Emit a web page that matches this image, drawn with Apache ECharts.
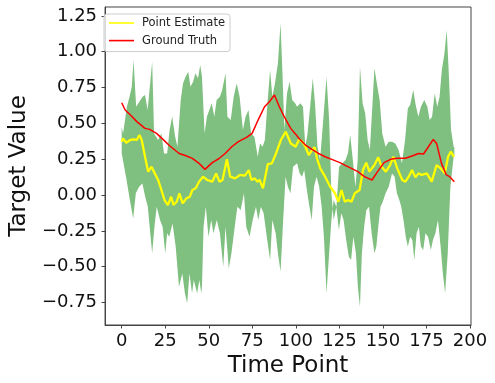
<!DOCTYPE html>
<html>
<head>
<meta charset="utf-8">
<script src="https://cdn.jsdelivr.net/npm/echarts@6/dist/echarts.min.js"></script>
<style>
html, body { margin: 0; padding: 0; background: #fff; }
#chart { width: 495px; height: 383px; }
</style>
</head>
<body>
<div id="chart"></div>
<script>
// [time point, value] pairs
var groundTruth = [
    [0, 0.644], [2, 0.593], [5, 0.558], [8.7, 0.512], [13.4, 0.465], [16, 0.458], [20, 0.43],
    [23.7, 0.388], [27.5, 0.344], [33, 0.29], [36.9, 0.274], [40.6, 0.256], [44.4, 0.221],
    [47.8, 0.179], [52, 0.226], [55.7, 0.253], [59.4, 0.29], [63.2, 0.337], [67, 0.372],
    [71.7, 0.402], [74.9, 0.43], [78.3, 0.523], [82, 0.616], [84.8, 0.651], [87.7, 0.698],
    [90.5, 0.616], [93.3, 0.547], [97, 0.465], [100, 0.423], [101.8, 0.395], [105.5, 0.349],
    [109.3, 0.319], [113, 0.29], [116.8, 0.267], [120.6, 0.249], [125.3, 0.226], [128, 0.209],
    [131.9, 0.186], [135.6, 0.163], [139.4, 0.128], [143.7, 0.105], [146.9, 0.163],
    [150.6, 0.226], [154.4, 0.249], [158.2, 0.256], [162.9, 0.256], [166.7, 0.272],
    [170.4, 0.29], [173.3, 0.286], [176.1, 0.337], [178.9, 0.388], [180.8, 0.36],
    [183.6, 0.221], [186.4, 0.14], [188.3, 0.128], [191, 0.093]
];

var pointEstimate = [
    [0, 0.372], [0.8, 0.395], [2.6, 0.365], [4.9, 0.384], [6.8, 0.388], [8.7, 0.384],
    [10.2, 0.419], [11.5, 0.384], [13.4, 0.267], [15.2, 0.163], [17.1, 0.198], [19, 0.151],
    [20.9, 0.105], [22.8, 0.035], [24.6, -0.035], [26.5, -0.07], [28.4, -0.012], [29.7, -0.07],
    [31.6, -0.047], [33.1, 0.012], [35, -0.058], [37.2, -0.023], [39.1, -0.012], [40.6, 0.035],
    [42.5, 0.047], [44.4, 0.093], [46.7, 0.128], [49.1, 0.105], [52, 0.093], [54.2, 0.151],
    [56.1, 0.093], [57.9, 0.105], [60.4, 0.249], [62.3, 0.128], [65.1, 0.116], [67.9, 0.14],
    [70.7, 0.135], [73, 0.174], [74.5, 0.105], [76.4, 0.116], [77.9, 0.093], [79.2, 0.105],
    [81.1, 0.047], [83.9, 0.216], [86.2, 0.221], [88.6, 0.29], [91.4, 0.384], [94.2, 0.442],
    [97.1, 0.36], [99.9, 0.337], [101.8, 0.388], [103.7, 0.372], [105.5, 0.337], [107.4, 0.279],
    [109.3, 0.314], [110.8, 0.333], [112.1, 0.256], [114, 0.186], [116.8, 0.128], [119.7, 0.058],
    [122.5, 0.012], [124.4, -0.047], [126.2, 0.035], [128.1, -0.047], [130, -0.035],
    [131.9, -0.047], [133.8, 0.012], [136.6, 0.035], [138.5, 0.174], [140.4, 0.226],
    [142.2, 0.163], [145.1, 0.209], [147.3, 0.263], [149.2, 0.198], [151.7, 0.163],
    [154.1, 0.209], [156, 0.267], [158.2, 0.186], [161.1, 0.105], [162.9, 0.093],
    [164.8, 0.128], [166.7, 0.174], [168.6, 0.123], [170.4, 0.151], [172.3, 0.14],
    [175.2, 0.151], [178, 0.093], [180.8, 0.209], [183.1, 0.186], [185.5, 0.151],
    [187.4, 0.267], [188.9, 0.302], [190.8, 0.267]
];

var upperBound = [
    [0, 0.477], [0.8, 0.43], [3, 0.616], [4.5, 0.686], [5.8, 0.756], [6.8, 0.942], [8.3, 0.616],
    [12, 0.686], [13.4, 0.698], [14.9, 0.593], [17.5, 0.93], [18.6, 0.43], [20.9, 0.384],
    [22.8, 0.43], [24.3, 0.29], [26.1, 0.29], [27.5, 0.453], [29, 0.547], [30.7, 0.407],
    [32, 0.337], [33.9, 0.663], [35.2, 0.779], [36.7, 0.826], [38.2, 0.86], [39.5, 0.756],
    [41, 0.79], [42.3, 0.849], [43.8, 0.814], [45.1, 0.907], [46.1, 0.826], [47.6, 0.43],
    [48.9, 0.547], [51.7, 0.64], [53.2, 0.547], [54.5, 0.663], [56.4, 0.686], [57.7, 0.733],
    [59.6, 0.849], [60.7, 0.547], [62.6, 0.523], [64.3, 0.686], [66, 0.779], [67.7, 0.686],
    [69.6, 0.453], [71.1, 0.547], [72.8, 0.593], [74.3, 0.43], [76.2, 0.407], [78.1, 0.267],
    [79.4, 0.36], [80.9, 0.337], [82.2, 0.384], [83.7, 0.64], [85.2, 0.872], [86.5, 0.686],
    [88, 0.779], [89.7, 0.919], [91.2, 1.198], [92.3, 0.849], [93.4, 0.453], [94.9, 0.709],
    [96.4, 0.791], [97.9, 0.663], [99.6, 0.64], [100.7, 0.616], [102.6, 0.64], [104.1, 0.616],
    [105.4, 0.337], [106.7, 0.43], [108.2, 0.616], [109.7, 0.814], [111, 0.64], [112.4, 0.337],
    [113.9, 0.244], [115.7, 0.523], [117.6, 0.826], [119.1, 0.523], [120.4, 0.012],
    [121.7, -0.174], [123.3, -0.081], [124.8, 0.198], [126.7, 0.221], [128.5, 0.244],
    [129.9, 0.291], [131.2, 0.419], [132.7, 0.244], [134.2, 0.058], [135.5, 0.244],
    [136.8, 0.895], [138.3, 0.64], [139.8, 0.57], [141.2, 0.384], [142.5, 0.314], [144, 0.64],
    [145.1, 0.884], [146.8, 0.756], [148.1, 0.663], [149.6, 0.43], [151.5, 0.337],
    [153.3, 0.372], [155.2, 0.372], [157.1, 0.36], [159, 0.314], [160.9, 0.221], [162.7, 0.384],
    [164.3, 0.605], [165.6, 0.628], [167.4, 0.733], [168.8, 0.628], [170.3, 0.547],
    [171.8, 0.616], [173.7, 0.663], [175.5, 0.616], [176.8, 0.523], [178.2, 0.547],
    [179.7, 0.709], [181.2, 0.616], [182.5, 0.686], [183.8, 0.872], [185.3, 0.988],
    [186.6, 1.151], [187.8, 0.849], [189.1, 0.453], [190.6, 0.337], [191, 0.33]
];

var lowerBound = [
    [0, 0.291], [2.8, 0.105], [4.7, -0.035], [6.6, -0.163], [8.1, 0.012], [10, 0.058],
    [11.9, 0.081], [13.5, -0.012], [15, -0.081], [16.4, -0.267], [17.5, -0.407], [18.8, -0.221],
    [20.1, -0.081], [22, -0.174], [23.5, -0.221], [25, -0.407], [26.1, -0.267], [27.3, -0.291],
    [29.2, -0.198], [31, -0.36], [32.9, -0.64], [34.8, -0.547], [36.3, -0.686], [37.6, -0.756],
    [38.9, -0.547], [40.4, -0.686], [41.4, -0.593], [43.3, -0.686], [44.6, -0.593],
    [45.7, -0.686], [46.1, -0.64], [47, -0.221], [48.3, -0.081], [49.8, -0.291], [51.4, -0.174],
    [52.7, -0.267], [54.6, -0.174], [56.4, -0.267], [58.3, -0.5], [59.6, -0.221], [61.5, -0.512],
    [63, -0.407], [64.9, -0.221], [66.4, -0.081], [68.3, -0.105], [70.2, 0.012], [71.5, -0.221],
    [73.4, -0.291], [75.2, -0.174], [77.1, -0.081], [78.4, -0.174], [79.9, -0.081],
    [81.5, -0.128], [83.3, -0.291], [85.2, -0.453], [86.5, -0.174], [88.4, -0.267],
    [89.7, -0.407], [91.2, -0.535], [92.7, -0.174], [94.1, 0.128], [95.4, 0.058], [96.9, 0.012],
    [98.4, 0.198], [100.7, 0.221], [102.2, 0.151], [103.5, 0.128], [104.8, 0.174],
    [106.3, 0.035], [107.8, -0.081], [109.1, -0.174], [110.4, 0.058], [111.9, 0.128],
    [113.4, 0.058], [114.8, -0.081], [116.1, -0.291], [117.6, -0.686], [119.1, -0.407],
    [120.4, -0.174], [121.7, -0.035], [123.2, -0.081], [124.7, -0.244], [126.1, -0.128],
    [127.4, -0.174], [128.9, -0.314], [130.4, -0.43], [131.7, -0.453], [133, -0.291],
    [134.5, -0.407], [135.6, -0.64], [136.8, -0.779], [137.9, -0.407], [139.2, -0.221],
    [140.5, -0.105], [142, -0.081], [143.5, -0.267], [145.1, -0.407], [146.2, -0.36],
    [147.7, -0.174], [148.6, -0.081], [149.9, -0.047], [151.5, 0.012], [153.3, 0.058],
    [155.2, 0.151], [156.7, 0.128], [158, 0.012], [159.4, -0.035], [160.5, -0.081],
    [161.8, -0.174], [163.1, -0.291], [164.3, -0.36], [165.6, -0.291], [166.9, -0.314],
    [168, -0.453], [169.3, -0.267], [170.6, -0.221], [171.8, -0.36], [173.1, -0.384],
    [174.4, -0.267], [175.9, -0.291], [177.5, -0.384], [178.7, -0.314], [180.1, -0.267],
    [181.6, -0.174], [183.1, -0.36], [184.4, -0.547], [185.7, -0.686], [187.2, -0.407],
    [188.7, 0.058], [190.6, 0.267], [191, 0.27]
];

var xTicks = [0, 25, 50, 75, 100, 125, 150, 175, 200];
var yTicks = [-0.75, -0.5, -0.25, 0, 0.25, 0.5, 0.75, 1, 1.25];

var font = 'DejaVu Sans';
var spine = '#444';

function fmtY(v) {
    return (v < 0 ? '\u2212' : '') + Math.abs(v).toFixed(2);
}

// fill_between: upper edge forward, lower edge back
function renderBand(params, api) {
    if (params.dataIndex !== 0) return;
    var pts = upperBound.map(function (p) { return api.coord(p); });
    var low = lowerBound.slice().reverse().map(function (p) { return api.coord(p); });
    return {
        type: 'polygon',
        shape: { points: pts.concat(low) },
        style: { fill: '#7fbf7f' }
    };
}

var chart = echarts.init(document.getElementById('chart'), null, { renderer: 'canvas' });
chart.setOption({
    animation: false,
    grid: {
        left: 99, right: 24, top: 7, bottom: 58,
        show: true, borderColor: spine, borderWidth: 1
    },
    legend: {
        orient: 'vertical',
        left: 104, top: 14,
        padding: [2, 5, 4, 5],
        itemGap: 3.6,
        itemWidth: 25, itemHeight: 1.6,
        icon: 'rect',
        backgroundColor: 'rgba(255,255,255,0.8)',
        borderColor: '#ccc', borderWidth: 1, borderRadius: 3,
        textStyle: { fontFamily: font, fontSize: 11.5, color: '#222', lineHeight: 14, padding: [0, 0, 0, 3] },
        data: ['Point Estimate', 'Ground Truth']
    },
    xAxis: {
        type: 'value',
        min: -9.55, max: 200.55,
        name: 'Time Point',
        nameLocation: 'middle',
        nameGap: 27,
        nameTextStyle: { fontFamily: font, fontSize: 23, color: '#111' },
        axisLine: { show: true, onZero: false, lineStyle: { color: spine } },
        axisTick: { show: true, length: 3.5, customValues: xTicks, lineStyle: { color: spine } },
        axisLabel: { customValues: xTicks, margin: 7, fontFamily: font, fontSize: 18, color: '#111' },
        splitLine: { show: false }
    },
    yAxis: {
        type: 'value',
        min: -0.907, max: 1.312,
        name: 'Target Value',
        nameLocation: 'middle',
        nameRotate: 90,
        nameGap: 71,
        nameTextStyle: { fontFamily: font, fontSize: 23, color: '#111' },
        axisLine: { show: true, onZero: false, lineStyle: { color: spine } },
        axisTick: { show: true, length: 3.5, customValues: yTicks, lineStyle: { color: spine } },
        axisLabel: { customValues: yTicks, margin: 8, fontFamily: font, fontSize: 18, color: '#111', formatter: fmtY },
        splitLine: { show: false }
    },
    series: [{
        name: 'band',
        type: 'custom',
        renderItem: renderBand,
        data: [[0, 0]],
        clip: true,
        silent: true,
        z: 1
    }, {
        name: 'Point Estimate',
        type: 'line',
        data: pointEstimate,
        showSymbol: false,
        symbol: 'none',
        color: '#ffff00',
        lineStyle: { color: '#ffff00', width: 2.3 },
        z: 2
    }, {
        name: 'Ground Truth',
        type: 'line',
        data: groundTruth,
        showSymbol: false,
        symbol: 'none',
        color: '#ff0000',
        lineStyle: { color: '#ff0000', width: 1.5 },
        z: 3
    }]
});
</script>
</body>
</html>
